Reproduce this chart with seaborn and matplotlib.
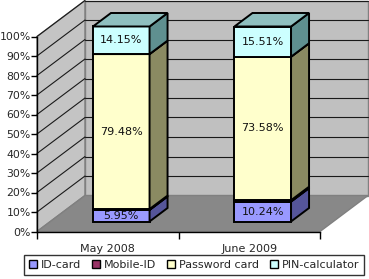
import matplotlib
matplotlib.use("Agg")
import matplotlib.pyplot as plt
from matplotlib.patches import Polygon, Patch
import seaborn as sns
import numpy as np

# data (percent of users per auth method)
months = ["May 2008", "June 2009"]
series = ["ID-card", "Mobile-ID", "Password card", "PIN-calculator"]
id_card = [5.95, 10.24]
mobile_id = [0.42, 0.67]
password_card = [79.48, 73.58]
pin_calculator = [14.15, 15.51]
show_label = [True, False, True, True]
yticks = list(range(0, 101, 10))

front_colors = ["#9999FF", "#993366", "#FFFFCC", "#CCFFFF"]
side_colors = ["#55559A", "#5A1E3C", "#8A8A62", "#5F9090"]
top_colors = ["#7777CC", "#7A2A50", "#CCCC99", "#8FBFBF"]

W, H, DPI = 369, 279, 100
sns.set_style("white")
plt.rcParams["font.family"] = ["DejaVu Sans"]

fig = plt.figure(figsize=(W / DPI, H / DPI), dpi=DPI)
# front plane of the 3d box, in pixels
x0, x1, y0, y1 = 37, 320, 231.5, 36.5
ax = fig.add_axes([x0 / W, 1 - y0 / H, (x1 - x0) / W, (y0 - y1) / H])
px_x = (x1 - x0) / 2.0
px_y = (y0 - y1) / 100.0


def off(dx, dy):
    return dx / px_x, dy / px_y


fx, fy = off(48, 36)      # wall depth
bx, by = off(13.5, 10)    # where the bar front sits
sx, sy = off(18, 13.5)    # bar depth

# walls and floor
wall_kw = dict(ec="#808080", lw=1, clip_on=False, zorder=0)
ax.add_patch(Polygon([(-0.5, 0), (-0.5, 100), (-0.5 + fx, 100 + fy), (-0.5 + fx, fy)],
                     fc="#C4C4C4", **wall_kw))
ax.add_patch(Polygon([(-0.5 + fx, fy), (-0.5 + fx, 100 + fy), (1.5 + fx, 100 + fy), (1.5 + fx, fy)],
                     fc="#C0C0C0", **wall_kw))
ax.add_patch(Polygon([(-0.5, 0), (1.5, 0), (1.5 + fx, fy), (-0.5 + fx, fy)],
                     fc="#888888", **wall_kw))
for t in yticks[1:]:
    ax.plot([-0.5 + fx, 1.5 + fx], [t + fy, t + fy], color="#1a1a1a", lw=0.8, clip_on=False, zorder=1)
    ax.plot([-0.5, -0.5 + fx], [t, t + fy], color="#1a1a1a", lw=0.8, clip_on=False, zorder=1)

# stacked bars (front faces) through seaborn
bottom = np.zeros(len(months))
for vals, col in zip([id_card, mobile_id, password_card, pin_calculator], front_colors):
    sns.barplot(x=months, y=vals, bottom=bottom, color=col, saturation=1, width=0.4,
                edgecolor="black", linewidth=1.4, ax=ax, order=months)
    bottom += np.array(vals)

for i, cont in enumerate(ax.containers):
    vals = [id_card, mobile_id, password_card, pin_calculator][i]
    for p, v in zip(cont.patches, vals):
        p.set_x(p.get_x() + bx)
        p.set_y(p.get_y() + by)
        p.set_clip_on(False)
        p.set_zorder(10 + 3 * i)
        xl, xr = p.get_x(), p.get_x() + p.get_width()
        yb, yt = p.get_y(), p.get_y() + p.get_height()
        ax.add_patch(Polygon([(xr, yb), (xr + sx, yb + sy), (xr + sx, yt + sy), (xr, yt)],
                             fc=side_colors[i], ec="black", lw=1.4, clip_on=False, zorder=11 + 3 * i))
        ax.add_patch(Polygon([(xl, yt), (xr, yt), (xr + sx, yt + sy), (xl + sx, yt + sy)],
                             fc=top_colors[i], ec="black", lw=1.4, clip_on=False, zorder=12 + 3 * i))
        if show_label[i]:
            ax.text((xl + xr) / 2, (yb + yt) / 2, f"{v:.2f}%", ha="center", va="center",
                    fontsize=8, color="#111111", zorder=50)

ax.set_xlim(-0.5, 1.5)
ax.set_ylim(0, 100)
ax.patch.set_visible(False)
for s in ["top", "right"]:
    ax.spines[s].set_visible(False)
for s in ["left", "bottom"]:
    ax.spines[s].set_color("black")
    ax.spines[s].set_linewidth(1)
    ax.spines[s].set_zorder(5)

ax.set_yticks(yticks)
ax.set_yticklabels([f"{t}%" for t in yticks])
ax.set_xticks([0, 1])
ax.set_xticklabels(months)
ax.set_xticks([-0.5, 0.5, 1.5], minor=True)
ax.tick_params(axis="y", direction="out", length=4, width=1, color="black",
               labelsize=7.8, pad=0.5, left=True)
ax.tick_params(axis="x", which="major", length=0, labelsize=8, pad=9)
ax.tick_params(axis="x", which="minor", direction="out", length=5, width=1,
               color="black", bottom=True)
ax.set_xlabel("")
ax.set_ylabel("")

handles = [Patch(facecolor=c, edgecolor="black", lw=1) for c in front_colors]
leg = fig.legend(handles, series, loc="center", bbox_to_anchor=(194 / W, 1 - 265 / H),
                 ncol=4, frameon=True, fancybox=False, edgecolor="black", fontsize=8,
                 handlelength=0.75, handleheight=0.75, handletextpad=0.3,
                 columnspacing=1.0, borderpad=0.45, borderaxespad=0)
leg.get_frame().set_linewidth(1)

fig.savefig("out.png", dpi=DPI)
